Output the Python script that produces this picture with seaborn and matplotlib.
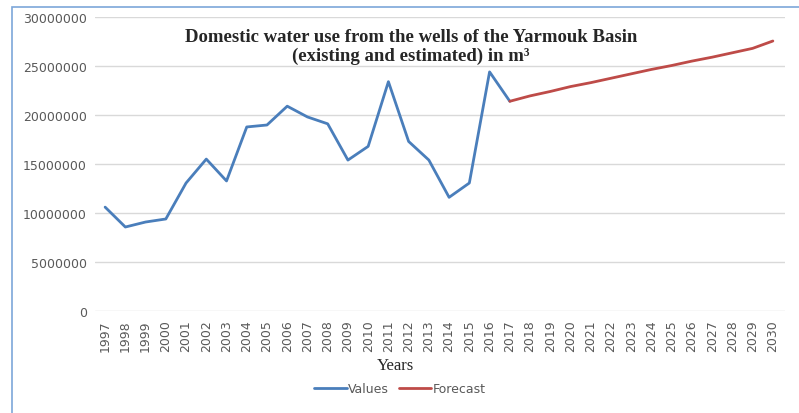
import pandas as pd
import matplotlib.pyplot as plt
import matplotlib.patches as patches
from matplotlib.lines import Line2D
import seaborn as sns

# observed domestic water use (m3)
years_obs = list(range(1997, 2018))
values_obs = [10600000, 8570000, 9080000, 9390000, 13060000, 15500000, 13270000,
              18780000, 18980000, 20900000, 19800000, 19100000, 15400000, 16800000,
              23400000, 17300000, 15400000, 11600000, 13060000, 24400000, 21400000]

# forecast
years_fc = list(range(2017, 2031))
values_fc = [21400000, 21950000, 22400000, 22900000, 23300000, 23750000, 24200000,
             24650000, 25050000, 25500000, 25900000, 26350000, 26800000, 27550000]

df = pd.concat([
    pd.DataFrame({"Year": years_obs, "Use": values_obs, "Series": "Values"}),
    pd.DataFrame({"Year": years_fc, "Use": values_fc, "Series": "Forecast"}),
])

sns.set_style("white")
fig = plt.figure(figsize=(7.99, 4.14), dpi=100)
ax = fig.add_axes([95/799, 1 - 312/414, 690/799, 294/414])

sns.lineplot(data=df, x="Year", y="Use", hue="Series",
             palette={"Values": "#4A7EBB", "Forecast": "#BE4B48"},
             linewidth=2.0, ax=ax, legend=False)

ax.set_xlim(1996.5, 2030.6)
ax.set_ylim(0, 30000000)
ax.set_xticks(list(range(1997, 2031)))
ax.set_xticklabels([str(y) for y in range(1997, 2031)], rotation=90)
ax.set_yticks(range(0, 30000001, 5000000))
ax.set_yticklabels([str(v) for v in range(0, 30000001, 5000000)])
ax.tick_params(axis="both", length=0, labelsize=9, colors="#595959", pad=6)
ax.grid(axis="y", color="#D9D9D9", linewidth=1)
ax.set_axisbelow(True)
for s in ax.spines.values():
    s.set_visible(False)

ax.set_ylabel("")
ax.set_xlabel("Years", fontfamily="Liberation Serif", fontsize=12, labelpad=0)
ax.xaxis.set_label_coords(300/690, -46/294)

fig.text(411/799, 1 - 47/414,
         "Domestic water use from the wells of the Yarmouk Basin\n(existing and estimated) in m\u00b3",
         ha="center", va="center", fontfamily="Liberation Serif", fontweight="bold",
         fontsize=13.5, linespacing=1.15)

# legend
handles = [Line2D([], [], color="#4A7EBB", lw=2.0), Line2D([], [], color="#BE4B48", lw=2.0)]
fig.legend(handles, ["Values", "Forecast"], loc="center", bbox_to_anchor=(400/799, 1 - 390/414),
           ncol=2, frameon=False, fontsize=9, handlelength=2.6, handletextpad=0.1,
           columnspacing=0.8, labelcolor="#595959")

# outer blue frame
fig.patches.append(patches.Rectangle((12/799, -0.1), 1.2, 1 - 8/414 + 0.1,
                                     transform=fig.transFigure, fill=False,
                                     edgecolor="#7DA7D9", linewidth=1.2))

fig.savefig("out.png", dpi=100)
